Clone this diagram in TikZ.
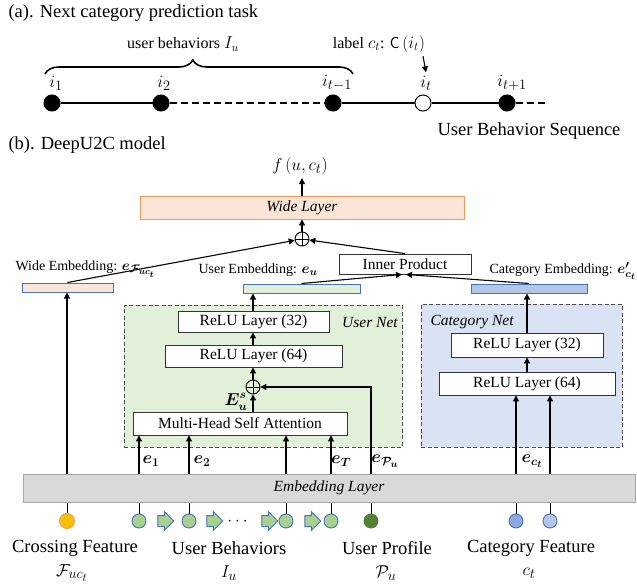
\documentclass[tikz,border=0pt]{standalone}
\usepackage{fontspec}
\setmainfont{Liberation Serif}
\usepackage{amsmath}
\usetikzlibrary{arrows.meta,shapes.arrows,decorations.pathreplacing}
\definecolor{peachFill}{RGB}{251,229,214}
\definecolor{peachLine}{RGB}{242,150,90}
\definecolor{netGreen}{RGB}{226,240,217}
\definecolor{netBlue}{RGB}{218,227,243}
\definecolor{barBlue}{RGB}{180,199,231}
\definecolor{edgeBlue}{RGB}{68,114,196}
\definecolor{featGreen}{RGB}{169,209,142}
\definecolor{darkGreen}{RGB}{84,130,53}
\definecolor{featOrange}{RGB}{255,192,0}
\definecolor{featBlue}{RGB}{143,170,220}
\definecolor{embGray}{RGB}{217,217,217}
\renewcommand{\defaultscriptratio}{.8}
\renewcommand{\defaultscriptscriptratio}{.65}
\newcommand{\capfnt}{\fontsize{18.5}{21}\selectfont}
\newcommand{\lblfnt}{\fontsize{16}{18}\selectfont}
\newcommand{\boxfnt}{\fontsize{15.5}{17}\selectfont}
\newcommand{\embfnt}{\fontsize{14}{16}\selectfont}

\begin{document}
\begin{tikzpicture}[x=1pt,y=-1pt,
  seqdot/.style={circle,draw=black,fill=black,line width=1pt,minimum size=16pt,inner sep=0pt},
  layerbox/.style={draw=black!80,fill=white,line width=0.9pt,inner sep=0pt,font=\boxfnt},
  embbar/.style={draw=edgeBlue,line width=1pt,inner sep=0pt,minimum height=9pt},
  netbox/.style={draw=black!70,line width=0.9pt,dash pattern=on 4pt off 2.5pt,inner sep=0pt},
  plusnode/.style={circle,draw,line width=0.9pt,minimum size=14pt,inner sep=0pt,
    path picture={\draw[line width=0.9pt] (path picture bounding box.north) -- (path picture bounding box.south)
      (path picture bounding box.west) -- (path picture bounding box.east);}},
  arr/.style={-{Triangle[length=6pt,width=6pt]},line width=1.1pt},
  feat/.style={circle,draw=edgeBlue,line width=0.9pt,minimum size=14pt,inner sep=0pt},
  flowarrow/.style={single arrow,draw=edgeBlue,fill=featGreen,line width=1pt,inner xsep=0pt,inner ysep=5pt,
    minimum height=16pt,single arrow head extend=4pt,single arrow head indent=0pt}]
\useasboundingbox (0,0) rectangle (637,586);

% (a) next category prediction task
\node[anchor=west,font=\capfnt] (titleA) at (5,13) {(a). Next category prediction task};
\node[seqdot] (i1) at (52,103) {};
\node[seqdot] (i2) at (161,103) {};
\node[seqdot] (itm) at (333,103) {};
\node[seqdot,fill=white] (it) at (423,103) {};
\node[seqdot] (itp) at (507,103) {};
\coordinate (seqEnd) at (547,103);
\draw[line width=2.5pt] (i1) -- (i2);
\draw[line width=2.5pt,dash pattern=on 7pt off 4pt] (i2) -- (itm);
\draw[line width=2.5pt] (itm) -- (it) -- (itp);
\draw[line width=2.5pt,dash pattern=on 7pt off 4pt] (itp) -- (seqEnd);
\node[font=\capfnt] (i1lab) at (56,83) {$i_1$};
\node[font=\capfnt] (i2lab) at (164,83) {$i_2$};
\node[font=\capfnt] (itmlab) at (337,83) {$i_{t-1}$};
\node[font=\capfnt] (itlab) at (426,83) {$i_t$};
\node[font=\capfnt] (itplab) at (512,83) {$i_{t+1}$};

% brace over the seen behaviors
\coordinate (braceL) at (45,74);
\coordinate (braceR) at (353,74);
\draw[decorate,decoration={brace,amplitude=14pt,aspect=0.48},line width=1.6pt] (braceL) -- (braceR);
\node[font=\lblfnt] (behav) at (183,44) {user behaviors $I_u$};
\node[font=\lblfnt] (lbl) at (379,44) {label $c_t$: $\mathsf{C}\,(i_t)$};
\draw[arr] (lbl.south -| it) -- (itlab.north);
\node[font=\capfnt] (seqname) at (529,131) {User Behavior Sequence};

% (b) DeepU2C model
\node[anchor=west,font=\capfnt] (titleB) at (5,145) {(b). DeepU2C model};

% sub-nets
\node[netbox,fill=netGreen,minimum width=278pt,minimum height=142pt] (usernet) at (263,376) {};
\node[netbox,fill=netBlue,minimum width=201pt,minimum height=143pt] (catnet) at (521.5,375.5) {};
\node[font=\boxfnt\itshape] (usernetlab) at (370,322) {User Net};
\node[anchor=west,font=\boxfnt\itshape] (catnetlab) at (427,322) {Category Net};

% user net layers
\node[layerbox,minimum width=151pt,minimum height=21pt] (userR32) at (253.5,321.5) {ReLU Layer (32)};
\node[layerbox,minimum width=177pt,minimum height=22pt] (userR64) at (253.5,356) {ReLU Layer (64)};
\node[plusnode] (plusU) at (253,387) {};
\node[layerbox,minimum width=214pt,minimum height=23pt] (mhsa) at (240,423.5) {Multi-Head Self Attention};
\node[anchor=east,font=\lblfnt,inner sep=0.5pt] (eslab) at (248,402) {$\boldsymbol{E_u^s}$};

% category net layers
\node[layerbox,minimum width=152pt,minimum height=24pt] (catR32) at (527,345) {ReLU Layer (32)};
\node[layerbox,minimum width=176pt,minimum height=23pt] (catR64) at (527,383.5) {ReLU Layer (64)};

% output part
\node[font=\capfnt] (fout) at (300,166) {$f\,(u,c_t)$};
\node[layerbox,draw=peachLine,fill=peachFill,font=\boxfnt\itshape,minimum width=324pt,minimum height=23pt] (wide) at (302,207.5) {Wide Layer};
\node[plusnode] (plusT) at (302,239) {};
\node[layerbox,minimum width=132pt,minimum height=20pt] (inner) at (405,264) {Inner Product};
\node[embbar,fill=peachFill,minimum width=91pt] (wideEmb) at (67.5,287.5) {};
\node[embbar,fill=netGreen,minimum width=117pt] (userEmb) at (301.5,288.5) {};
\node[embbar,fill=barBlue,minimum width=116pt] (catEmb) at (529,288.5) {};
\node[anchor=west,font=\embfnt] (wideLab) at (12,269) {Wide Embedding: $\boldsymbol{e_{\mathcal{F}_{uc_t}}}$};
\node[anchor=west,font=\embfnt] (userLab) at (195,270) {User Embedding: $\boldsymbol{e_u}$};
\node[anchor=west,font=\embfnt] (catLab) at (486,271) {Category Embedding: $\boldsymbol{e'_{c_t}}$};

% embedding layer and features
\node[draw=black!35,fill=embGray,line width=1pt,minimum width=612pt,minimum height=28pt,inner sep=0pt,font=\boxfnt\itshape] (emb) at (329,488) {Embedding Layer};
\node[feat,draw=peachLine,fill=featOrange,minimum size=15pt] (fCross) at (67,521) {};
\node[feat,fill=featGreen] (b1) at (139,521) {};
\node[feat,fill=featGreen] (b2) at (189,521) {};
\node[feat,fill=featGreen] (b3) at (286,521) {};
\node[feat,fill=featGreen] (b4) at (331,521) {};
\node[feat,draw=darkGreen,fill=darkGreen] (fProf) at (371,521) {};
\node[feat,fill=featBlue] (fCat1) at (516,521) {};
\node[feat,fill=barBlue] (fCat2) at (550,521) {};
\node[flowarrow] (a1) at (163,521) {};
\node[flowarrow] (a2) at (212,521) {};
\node[flowarrow] (a3) at (267,521) {};
\node[flowarrow] (a4) at (310,521) {};
\node[font=\capfnt] (dots) at (239,522) {$\cdots$};

% feature names
\node[font=\capfnt] (crossLab) at (75,548) {Crossing Feature};
\node[font=\capfnt] (crossSym) at (72,573) {$\mathcal{F}_{uc_t}$};
\node[font=\capfnt] (behLab) at (229,548) {User Behaviors};
\node[font=\capfnt] (behSym) at (229,573) {$I_u$};
\node[font=\capfnt] (profLab) at (387,548) {User Profile};
\node[font=\capfnt] (profSym) at (386,573) {$\mathcal{P}_u$};
\node[font=\capfnt] (catFLab) at (531,548) {Category Feature};
\node[font=\capfnt] (catFSym) at (529,573) {$c_t$};

% connectors below the embedding layer
\foreach \f in {fCross,b1,b2,b3,b4,fProf,fCat1,fCat2}
  \draw[line width=1pt] (\f.north) -- (\f.north |- emb.south);

% connectors above the embedding layer
\draw[arr] (emb.north -| fCross) -- (wideEmb.south -| fCross);
\foreach \f in {b1,b2,b3,b4}
  \draw[arr] (emb.north -| \f) -- (mhsa.south -| \f);
\draw[arr] (emb.north -| fProf) |- (plusU.east);
\foreach \f in {fCat1,fCat2}
  \draw[arr] (emb.north -| \f) -- (catR64.south -| \f);
\node[font=\lblfnt] (e1lab) at (151,461) {$\boldsymbol{e_1}$};
\node[font=\lblfnt] (e2lab) at (202,461) {$\boldsymbol{e_2}$};
\node[font=\lblfnt] (eTlab) at (341,461) {$\boldsymbol{e_T}$};
\node[font=\lblfnt] (ePlab) at (385,461) {$\boldsymbol{e_{\mathcal{P}_u}}$};
\node[font=\lblfnt] (eclab) at (532,461) {$\boldsymbol{e_{c_t}}$};

% user net flow
\draw[arr] (mhsa.north -| plusU) -- (plusU.south);
\draw[arr] (plusU.north) -- (userR64.south -| plusU);
\draw[arr] (userR64.north -| plusU) -- (userR32.south -| plusU);
\draw[arr] (userR32.north -| plusU) -- (userEmb.south -| plusU);

% category net flow
\draw[arr] (catR64.north) -- (catR32.south);
\draw[arr] (catR32.north) -- (catEmb.south -| catR32);

% combination
\draw[arr] (wideEmb.north) -- (plusT);
\draw[arr] (userEmb.north) -- ([xshift=-3pt]inner.south);
\draw[arr] (catEmb.north) -- ([xshift=1pt]inner.south);
\draw[arr] (inner.north) -- (plusT);
\draw[arr] (plusT.north) -- (wide.south -| plusT);
\draw[arr] (wide.north -| plusT) -- (fout.south -| plusT);
\end{tikzpicture}
\end{document}
